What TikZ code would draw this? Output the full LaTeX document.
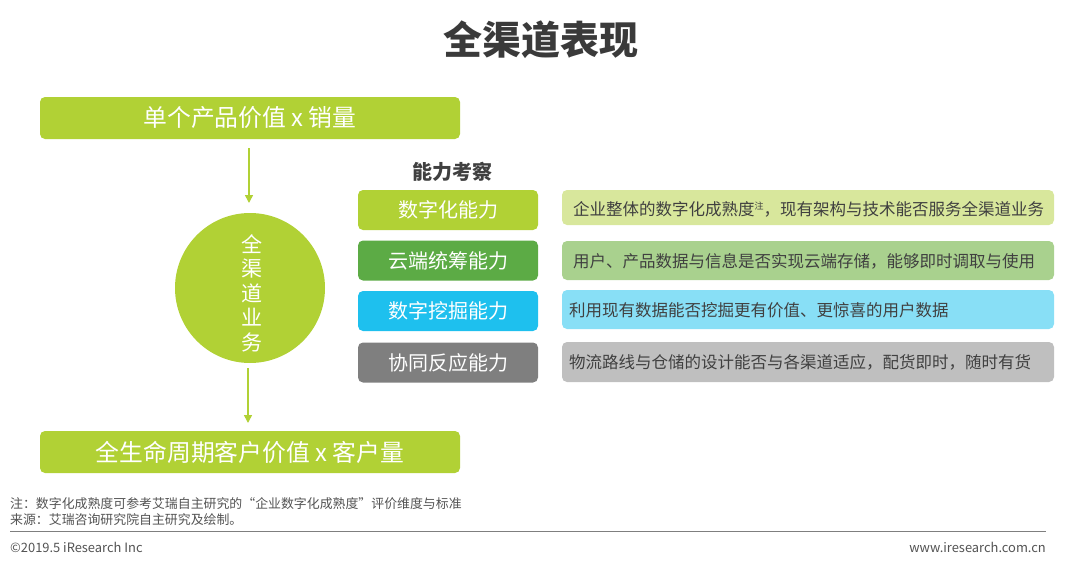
\documentclass[tikz,border=0pt]{standalone}
\usepackage{fontspec}
\setmainfont{Noto Sans CJK SC}
\usetikzlibrary{arrows.meta}
\definecolor{lime}{HTML}{B1D135}
\definecolor{gr}{HTML}{5CAB45}
\definecolor{cy}{HTML}{1EC0EE}
\definecolor{gy}{HTML}{7F7F7F}
\definecolor{limel}{HTML}{D8E79C}
\definecolor{grl}{HTML}{A9D18E}
\definecolor{cyl}{HTML}{88DFF6}
\definecolor{gyl}{HTML}{BFBFBF}
\definecolor{txt}{HTML}{404040}
\tikzset{
  bigbox/.style={fill=lime, rounded corners=5pt, minimum width=420pt, minimum height=42pt, text=white, font=\fontsize{23.8}{28}\selectfont, inner sep=0pt},
  capbox/.style={rounded corners=5pt, minimum width=180pt, minimum height=40pt, text=white, font=\fontsize{20}{24}\selectfont, inner sep=0pt},
  descbox/.style={rounded corners=5pt, minimum width=492pt, minimum height=38pt, inner sep=0pt},
  desctext/.style={anchor=west, text=txt, font=\fontsize{16.5}{20}\selectfont, inner sep=0pt},
  flow/.style={draw=lime, line width=1.5pt, -{Triangle[length=8pt,width=8pt]}},
  small/.style={text=txt!90, font=\fontsize{12.9}{15}\selectfont, inner sep=0pt, anchor=west}
}
\begin{document}
\begin{tikzpicture}[x=1pt,y=-1pt]
\useasboundingbox (0,0) rectangle (1080,563);
\node[text=txt!90!black, font=\bfseries\fontsize{39}{44}\selectfont] (title) at (541,40) {全渠道表现};
\node[bigbox] (top) at (250,118) {单个产品价值 x 销量};
\node[circle, fill=lime, minimum size=150pt, inner sep=0pt] (circ) at (250,288) {};
\node[text=white, font=\fontsize{21}{24.5}\selectfont, align=center, inner sep=0pt] (circt) at (252,293) {全\\渠\\道\\业\\务};
\node[bigbox] (bot) at (250,452) {全生命周期客户价值 x 客户量};
\coordinate (a1s) at (249,148);
\coordinate (a1e) at (249,203);
\coordinate (a2s) at (248,368);
\coordinate (a2e) at (248,423);
\draw[flow] (a1s) -- (a1e);
\draw[flow] (a2s) -- (a2e);
\node[text=txt, font=\bfseries\fontsize{20}{24}\selectfont] (head) at (452,172) {能力考察};
\node[capbox, fill=lime] (c1) at (448,210) {数字化能力};
\node[capbox, fill=gr] (c2) at (448,260.5) {云端统筹能力};
\node[capbox, fill=cy] (c3) at (448,311) {数字挖掘能力};
\node[capbox, fill=gy] (c4) at (448,362.5) {协同反应能力};
\node[descbox, fill=limel, minimum height=35pt] (d1) at (808,207.5) {};
\node[descbox, fill=grl, minimum height=39pt] (d2) at (808,260.5) {};
\node[descbox, fill=cyl, minimum height=39pt] (d3) at (808,309.5) {};
\node[descbox, fill=gyl, minimum height=40pt] (d4) at (808,362) {};
\node[desctext] (t1) at (573,209) {企业整体的数字化成熟度\raisebox{0.6ex}{\fontsize{9}{10}\selectfont 注}，现有架构与技术能否服务全渠道业务};
\node[desctext] (t2) at (573,261) {用户、产品数据与信息是否实现云端存储，能够即时调取与使用};
\node[desctext] (t3) at (569,310) {利用现有数据能否挖掘更有价值、更惊喜的用户数据};
\node[desctext] (t4) at (569,362) {物流路线与仓储的设计能否与各渠道适应，配货即时，随时有货};
\node[small] (n1) at (10,504) {注：数字化成熟度可参考艾瑞自主研究的“企业数字化成熟度”评价维度与标准};
\node[small] (n2) at (10,520) {来源：艾瑞咨询研究院自主研究及绘制。};
\coordinate (l1) at (10,531.5);
\coordinate (l2) at (1046,531.5);
\draw[gy, line width=1.5pt] (l1) -- (l2);
\node[small] (cp) at (10,547) {©2019.5 iResearch Inc};
\node[small, anchor=east] (www) at (1046,547) {www.iresearch.com.cn};
\end{tikzpicture}
\end{document}
